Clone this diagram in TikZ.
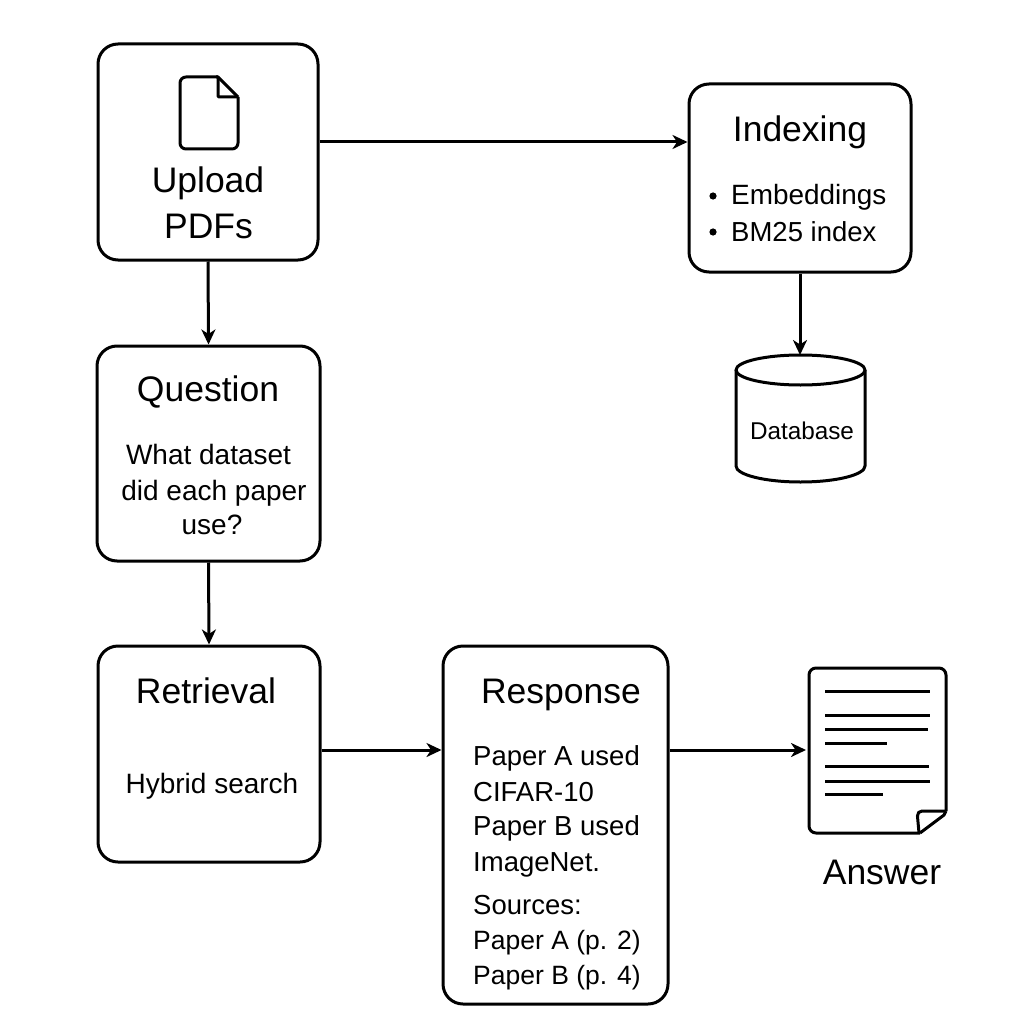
\documentclass[tikz,border=0pt]{standalone}
\usepackage{fontspec}
\setmainfont{Liberation Sans}
\usetikzlibrary{arrows.meta}
\tikzset{
 x=1pt,y=-1pt,
 line/.style={line width=3pt,draw=black,line join=round},
 card/.style={line, rounded corners=20pt, fill=white, inner sep=0pt},
 conn/.style={line width=3pt,-{Stealth[length=15pt,width=14pt,inset=4.5pt]}},
 rule/.style={line width=3pt},
 big/.style={anchor=base,inner sep=0pt,font=\fontsize{35.5}{36}\selectfont},
 body/.style={anchor=base,inner sep=0pt,font=\fontsize{28}{29}\selectfont},
 lbody/.style={anchor=base west,inner sep=0pt,font=\fontsize{27.5}{28}\selectfont},
 sbody/.style={anchor=base west,inner sep=0pt,font=\fontsize{26.5}{28}\selectfont},
}
\begin{document}
\begin{tikzpicture}
\useasboundingbox (0,0) rectangle (1024,1024);
\fill[white] (0,0) rectangle (1024,1024);
% boxes
\node[card,minimum width=220pt,minimum height=216pt] (upload) at (208,152) {};
\node[card,minimum width=222pt,minimum height=188pt] (index) at (800,178) {};
\node[card,minimum width=223pt,minimum height=215pt] (question) at (208.5,453.5) {};
\node[card,minimum width=222pt,minimum height=216pt] (retrieval) at (209,754) {};
\node[card,minimum width=225pt,minimum height=358pt] (response) at (555.5,825) {};
% pdf icon
\draw[line,rounded corners=6pt] (218,77) -- (180,77) -- (180,149) -- (238,149) -- (238,97);
\draw[line] (216,77) -- (218,77) -- (238,97);
\draw[line,rounded corners=1pt] (218,77) -- (218,97) -- (238,97);
% database
\draw[line,fill=white] (736,370) -- (736,466) arc[start angle=180,end angle=360,x radius=64.5,y radius=-16] -- (865,370);
\draw[line,fill=white] (800.5,370) ellipse[x radius=64.5,y radius=15];
\coordinate (dbtop) at (800,355);
\node[anchor=base,inner sep=0pt,font=\fontsize{24.3}{25}\selectfont] (dblabel) at (802,439) {Database};
% answer document
\draw[line,fill=white,rounded corners=7pt] (920,833) -- (809,833) -- (809,668) -- (946,668) -- (946,811);
\draw[line,line join=round] (946,811) -- (944,815) -- (920,833);
\draw[line,rounded corners=5pt] (919,833) -- (917,811) -- (946,811);
\coordinate (docleft) at (806,750);
\foreach \a/\b/\c in {825/930/691.5,825/930/715,825/928/729,825/887/743,825/929/766,825/930/781,825/883/794}
 \draw[rule] (\a,\c) -- (\b,\c);
% connectors
\draw[conn] ([yshift=10pt]upload.east) -- ([yshift=36pt]index.west);
\draw[conn] (upload.south) -- (question.north);
\draw[conn] (question.south) -- (retrieval.north);
\draw[conn] (index.south) -- (dbtop);
\draw[conn] ([yshift=4pt]retrieval.east) -- (response.west |- {0,750});
\draw[conn] (response.east |- {0,750}) -- (docleft);
% text
\node[big] (t1) at (208,193) {Upload};
\node[big] (t2) at (208.5,238) {PDFs};
\node[big] (t3) at (800,142) {Indexing};
\node[lbody,font=\fontsize{27.9}{28}\selectfont] (t4) at (731,205) {Embeddings};
\node[lbody] (t5) at (731,241) {BM25 index};
\fill (713,196) circle (3.6pt) (713,232) circle (3.6pt);
\node[big] (t6) at (208,401) {Question};
\node[body] (t7) at (208.5,464) {What dataset};
\node[body] (t8) at (214,500) {did each paper};
\node[body] (t9) at (212,534) {use?};
\node[big] (t10) at (206,703) {Retrieval};
\node[body] (t11) at (212,793) {Hybrid search};
\node[big] (t12) at (561,703) {Response};
\node[lbody] (t13) at (473,765) {Paper A used};
\node[lbody] (t14) at (473,801) {CIFAR-10};
\node[lbody] (t15) at (473,835) {Paper B used};
\node[lbody] (t16) at (473,871) {ImageNet.};
\node[lbody] (t17) at (473,914) {Sources:};
\node[sbody] (t18) at (473,949) {Paper A (p. 2)};
\node[sbody] (t19) at (473,984) {Paper B (p. 4)};
\node[big] (t20) at (882,884) {Answer};
\end{tikzpicture}
\end{document}
